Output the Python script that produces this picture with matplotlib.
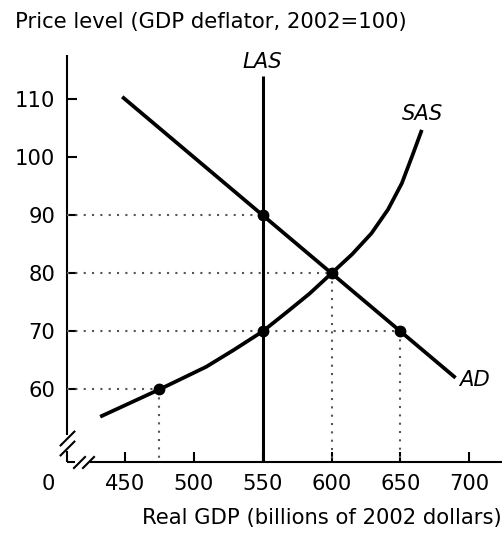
import matplotlib
matplotlib.use("Agg")
import matplotlib.pyplot as plt

# ---- data ----
gdp_ticks = [450, 500, 550, 600, 650, 700]
price_ticks = [60, 70, 80, 90, 100, 110]

ad_gdp = [448, 690]
ad_price = [110.4, 62.0]

sas_gdp = [432, 475, 509, 529, 550, 569, 584, 600, 615, 629, 641, 651,
           659, 665.5]
sas_price = [55.3, 60, 63.9, 66.8, 70, 73.6, 76.5, 80, 83.3, 86.9, 91.0,
             95.5, 100.5, 104.7]

las_gdp = 550
las_top = 113.9

point_gdp = [550, 600, 550, 650, 475]
point_price = [90, 80, 70, 70, 60]

guide_h_gdp = [550, 600, 650, 475]      # horizontal dotted lines end here
guide_h_price = [90, 80, 70, 60]
guide_v_gdp = [475, 600, 650]           # vertical dotted lines start here
guide_v_price = [60, 80, 70]

xlim = (407.9, 723.5)
ylim = (47.5, 117.6)

plt.rcParams['font.family'] = ['DejaVu Sans']
FS = 15.2

fig = plt.figure(figsize=(5.04, 5.33), dpi=100)
ax = fig.add_axes([0.1329, 0.1332, 0.8625, 0.7636])
ax.set_xlim(*xlim)
ax.set_ylim(*ylim)

for s in ax.spines.values():
    s.set_visible(False)

axis_kw = dict(color='black', lw=1.5, solid_capstyle='butt', clip_on=False)
# y axis with break
ax.plot([xlim[0], xlim[0]], [ylim[1], 52.2], **axis_kw)
ax.plot([xlim[0], xlim[0]], [49.4, ylim[0]], **axis_kw)
# x axis with break
ax.plot([xlim[0], 414.0], [ylim[0], ylim[0]], **axis_kw)
ax.plot([424.5, xlim[1]], [ylim[0], ylim[0]], **axis_kw)
# break marks
brk = [(-1, -1), (1, 1)]
ax.plot([xlim[0], xlim[0]], [51.6, 49.9], ls='none', marker=brk, ms=11,
        mew=1.5, color='black', clip_on=False)
ax.plot([416.3, 423.0], [ylim[0], ylim[0]], ls='none', marker=brk, ms=9,
        mew=1.5, color='black', clip_on=False)

ax.set_xticks(gdp_ticks)
ax.set_yticks(price_ticks)
ax.set_xticklabels([str(v) for v in gdp_ticks])
ax.set_yticklabels([str(v) for v in price_ticks])
ax.tick_params(axis='x', direction='in', length=7, width=1.5, pad=8.5,
               labelsize=FS)
ax.tick_params(axis='y', direction='in', length=7, width=1.5, pad=8.5,
               labelsize=FS)
ax.annotate('0', xy=(394, 0), xycoords=ax.get_xaxis_transform(),
            xytext=(0, -8.5), textcoords='offset points', ha='center',
            va='top', fontsize=FS, annotation_clip=False)

dot_kw = dict(color='#555555', lw=1.5, dashes=(1, 3))
for gx, py in zip(guide_h_gdp, guide_h_price):
    ax.plot([xlim[0], gx], [py, py], **dot_kw)
for gx, py in zip(guide_v_gdp, guide_v_price):
    ax.plot([gx, gx], [py, ylim[0]], **dot_kw)

ax.plot([las_gdp, las_gdp], [ylim[0], las_top], color='black', lw=2.2,
        solid_capstyle='butt')
ax.plot(ad_gdp, ad_price, color='black', lw=2.7, solid_capstyle='butt')
ax.plot(sas_gdp, sas_price, color='black', lw=2.7, solid_capstyle='butt',
        solid_joinstyle='round')
ax.plot(point_gdp, point_price, 'o', color='black', ms=7.5, zorder=5)

ax.text(550, 116.4, 'LAS', style='italic', fontsize=FS, ha='center',
        va='center', clip_on=False)
ax.text(665.7, 107.5, 'SAS', style='italic', fontsize=FS, ha='center',
        va='center')
ax.text(703.5, 61.6, 'AD', style='italic', fontsize=FS, ha='center',
        va='center')

fig.text(15 / 504, 1 - 22 / 533, 'Price level (GDP deflator, 2002=100)',
         ha='left', va='center', fontsize=FS)
fig.text(502 / 504, 1 - 518 / 533, 'Real GDP (billions of 2002 dollars)',
         ha='right', va='center', fontsize=FS)

fig.savefig('out.png', dpi=100)
